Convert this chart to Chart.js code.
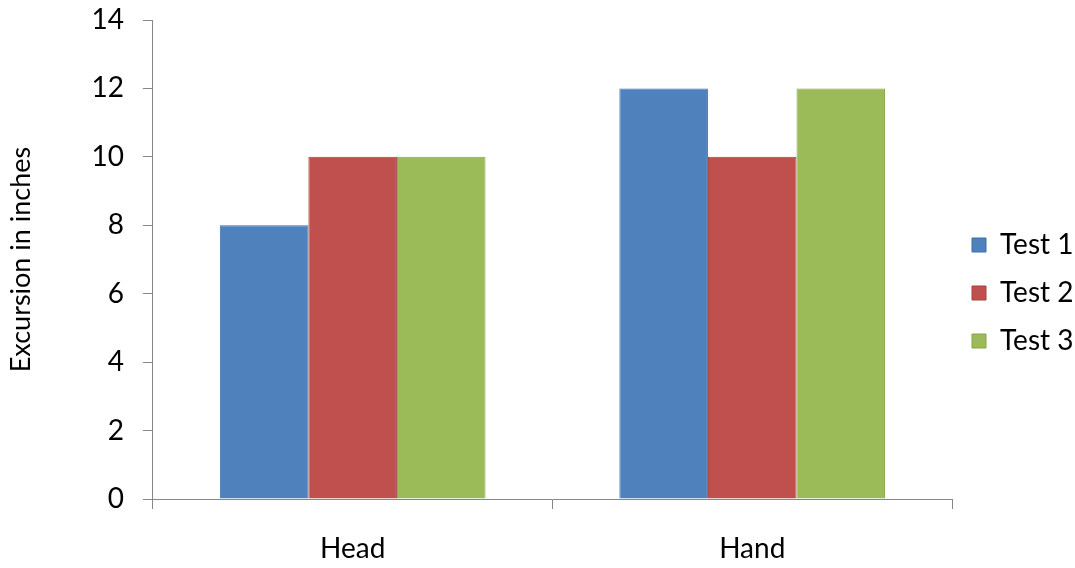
<!DOCTYPE html>
<html><head><meta charset="utf-8">
<script src="https://cdn.jsdelivr.net/npm/chart.js@4"></script>
<style>html,body{margin:0;padding:0;background:#fff;}#wrap{width:1075px;height:568px;}</style>
</head><body><div id="wrap"><canvas id="c" width="1075" height="568"></canvas></div>
<script>
const categories = ["Head", "Hand"];
const test1 = [8, 12];
const test2 = [10, 10];
const test3 = [10, 12];
const seriesNames = ["Test 1", "Test 2", "Test 3"];
const yTicks = [0, 2, 4, 6, 8, 10, 12, 14];

const FONT = "Lato, 'Open Sans', sans-serif";
new Chart(document.getElementById('c'), {
  type: 'bar',
  data: {
    labels: categories,
    datasets: [
      {label: seriesNames[0], data: test1, backgroundColor: '#4F81BD', borderColor: '#3F6FA8', borderWidth: 1},
      {label: seriesNames[1], data: test2, backgroundColor: '#C0504D', borderColor: '#A8403D', borderWidth: 1},
      {label: seriesNames[2], data: test3, backgroundColor: '#9BBB59', borderColor: '#86A547', borderWidth: 1}
    ]
  },
  options: {
    responsive: false,
    animation: false,
    layout: {padding: {top: 0, right: 0, left: 0, bottom: 0}},
    datasets: {bar: {categoryPercentage: 0.665, barPercentage: 1.0}},
    plugins: {
      legend: {
        position: 'right',
        maxWidth: 123,
        title: {display: true, text: '', font: {size: 10}, padding: 3},
        labels: {boxWidth: 14, boxHeight: 14, padding: 20, color: '#000', font: {family: FONT, size: 28}}
      },
      tooltip: {enabled: false}
    },
    scales: {
      x: {
        afterFit: (s) => { s.height = 69; },
        grid: {display: true, drawOnChartArea: false, drawTicks: true, tickLength: 10, color: '#868686', offset: true},
        border: {color: '#868686'},
        ticks: {color: '#000', padding: 23, font: {family: FONT, size: 28}}
      },
      y: {
        min: 0, max: 14,
        afterBuildTicks: (s) => { s.ticks = yTicks.map(v => ({value: v})); },
        afterFit: (s) => { s.paddingTop = 20; },
        grid: {display: true, drawOnChartArea: false, drawTicks: true, tickLength: 10, color: '#868686'},
        border: {color: '#868686'},
        ticks: {color: '#000', padding: 19, font: {family: FONT, size: 28}},
        title: {display: true, text: 'Excursion in inches', color: '#000', font: {family: FONT, size: 27}, padding: {top: 5, bottom: 35}}
      }
    }
  }
});
</script></body></html>
